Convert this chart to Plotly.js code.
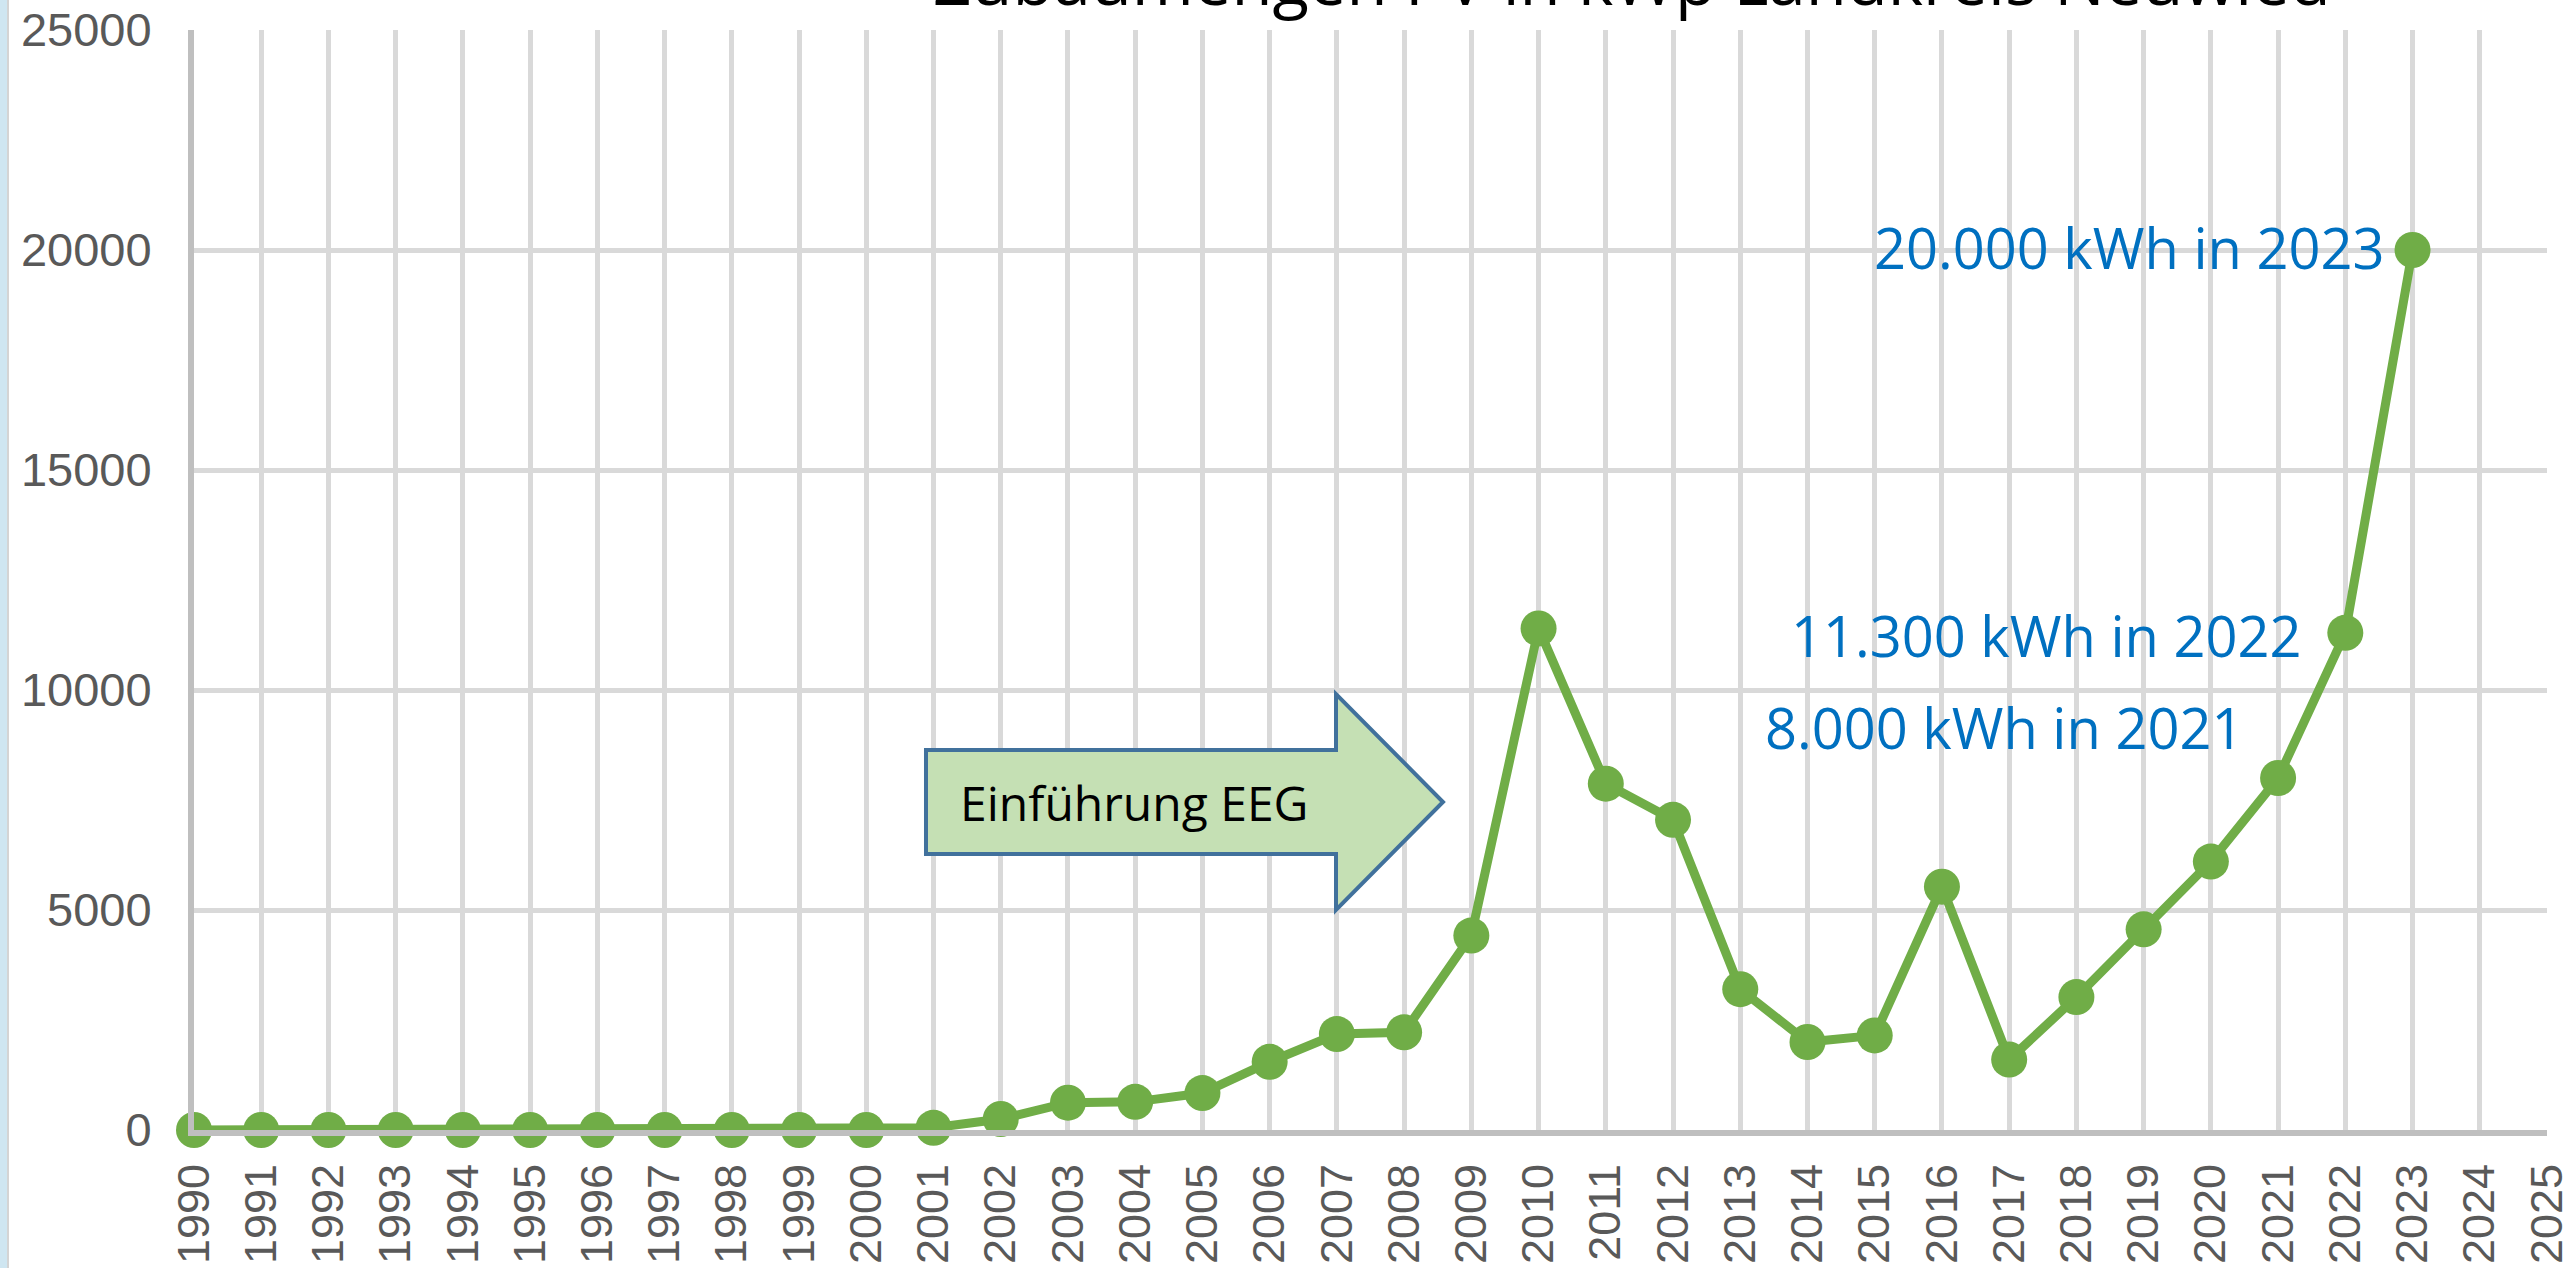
<!DOCTYPE html>
<html>
<head>
<meta charset="utf-8">
<script src="https://cdn.plot.ly/plotly-3.0.1.min.js"></script>
<style>
html,body{margin:0;padding:0;background:#ffffff;}
#chart{width:2573px;height:1268px;}
</style>
</head>
<body>
<div id="chart"></div>
<script>
// ---- data ----
const years = [1990,1991,1992,1993,1994,1995,1996,1997,1998,1999,2000,2001,2002,2003,2004,2005,2006,2007,2008,2009,2010,2011,2012,2013,2014,2015,2016,2017,2018,2019,2020,2021,2022,2023];
const zubau = [0,0,0,0,0,0,0,0,0,0,0,50,250,620,640,840,1550,2180,2220,4420,11400,7870,7050,3200,2000,2150,5530,1600,3020,4560,6100,8000,11300,20000];
const tickYears = [1990,1991,1992,1993,1994,1995,1996,1997,1998,1999,2000,2001,2002,2003,2004,2005,2006,2007,2008,2009,2010,2011,2012,2013,2014,2015,2016,2017,2018,2019,2020,2021,2022,2023,2024,2025];
const yTicks = [0,5000,10000,15000,20000,25000];
const titleText = "Zubaumengen PV in kWp Landkreis Neuwied";
const arrowText = "Einführung EEG";
const noteTexts = ["20.000 kWh in 2023","11.300 kWh in 2022","8.000 kWh in 2021"];

// ---- layout geometry (pixels) ----
const W = 2573, H = 1268;
const L = 194, R = 2547, T = 30, B = 1130;
const px = x => (x - L) / (R - L);
const py = y => (B - y) / (B - T);

const arrowPts = [[926,750],[1336,750],[1336,694],[1443,802],[1336,910],[1336,854],[926,854]];
const arrowPath = arrowPts.map((p,i)=> (i?'L':'M') + px(p[0]).toFixed(5) + ',' + py(p[1]).toFixed(5)).join(' ') + ' Z';

const trace = {
  x: years, y: zubau, type: 'scatter', mode: 'lines+markers',
  line: {color:'#70ad47', width:9},
  marker: {color:'#70ad47', size:36},
  cliponaxis: false, hoverinfo: 'x+y'
};

const layout = {
  width: W, height: H,
  margin: {l:L, r:W-R, t:T, b:H-B, pad:0},
  paper_bgcolor:'#ffffff', plot_bgcolor:'#ffffff',
  showlegend:false,
  xaxis: {
    range:[1990,2025], tickmode:'array', tickvals:tickYears, ticktext:tickYears.map(String),
    tickangle:-90, tickfont:{family:'Liberation Sans, Arial, sans-serif', size:45, color:'#595959'},
    showgrid:true, gridcolor:'#d9d9d9', gridwidth:5,
    showline:true, linecolor:'#bfbfbf', linewidth:6, zeroline:false,
    ticks:'', ticklabelstandoff:10, fixedrange:true
  },
  yaxis: {
    range:[0,25000], tickmode:'array', tickvals:yTicks, ticktext:yTicks.map(String),
    tickfont:{family:'Liberation Sans, Arial, sans-serif', size:47, color:'#595959'},
    showgrid:true, gridcolor:'#d9d9d9', gridwidth:5,
    showline:true, linecolor:'#bfbfbf', linewidth:6, zeroline:false,
    ticks:'', ticklabelstandoff:27, fixedrange:true
  },
  shapes: [
    {type:'rect', xref:'paper', yref:'paper', x0:px(0), x1:px(7), y0:py(H), y1:py(0), fillcolor:'#cfe6f1', line:{width:0}, layer:'above'},
    {type:'rect', xref:'paper', yref:'paper', x0:px(7), x1:px(9), y0:py(H), y1:py(0), fillcolor:'#d4d4d4', line:{width:0}, layer:'above'},
    {type:'path', xref:'paper', yref:'paper', path:arrowPath, fillcolor:'#c5e0b4', line:{color:'#41719c', width:4}, layer:'above'}
  ],
  annotations: [
    {xref:'paper', yref:'paper', x:px(1632), y:py(-21), text:titleText, showarrow:false, xanchor:'center', yanchor:'middle',
     font:{family:'Open Sans, sans-serif', size:67, color:'#000000'}},
    {xref:'paper', yref:'paper', x:px(1134), y:py(802), text:arrowText, showarrow:false, xanchor:'center', yanchor:'middle',
     font:{family:'Open Sans, sans-serif', size:48, color:'#000000'}},
    {xref:'paper', yref:'paper', x:px(2386), y:py(247), text:noteTexts[0], showarrow:false, xanchor:'right', yanchor:'middle',
     font:{family:'Open Sans, sans-serif', size:56, color:'#0070c0'}},
    {xref:'paper', yref:'paper', x:px(2303), y:py(635), text:noteTexts[1], showarrow:false, xanchor:'right', yanchor:'middle',
     font:{family:'Open Sans, sans-serif', size:56, color:'#0070c0'}},
    {xref:'paper', yref:'paper', x:px(2245), y:py(727), text:noteTexts[2], showarrow:false, xanchor:'right', yanchor:'middle',
     font:{family:'Open Sans, sans-serif', size:56, color:'#0070c0'}}
  ]
};

Plotly.newPlot('chart', [trace], layout, {displayModeBar:false, staticPlot:true});
</script>
</body>
</html>
